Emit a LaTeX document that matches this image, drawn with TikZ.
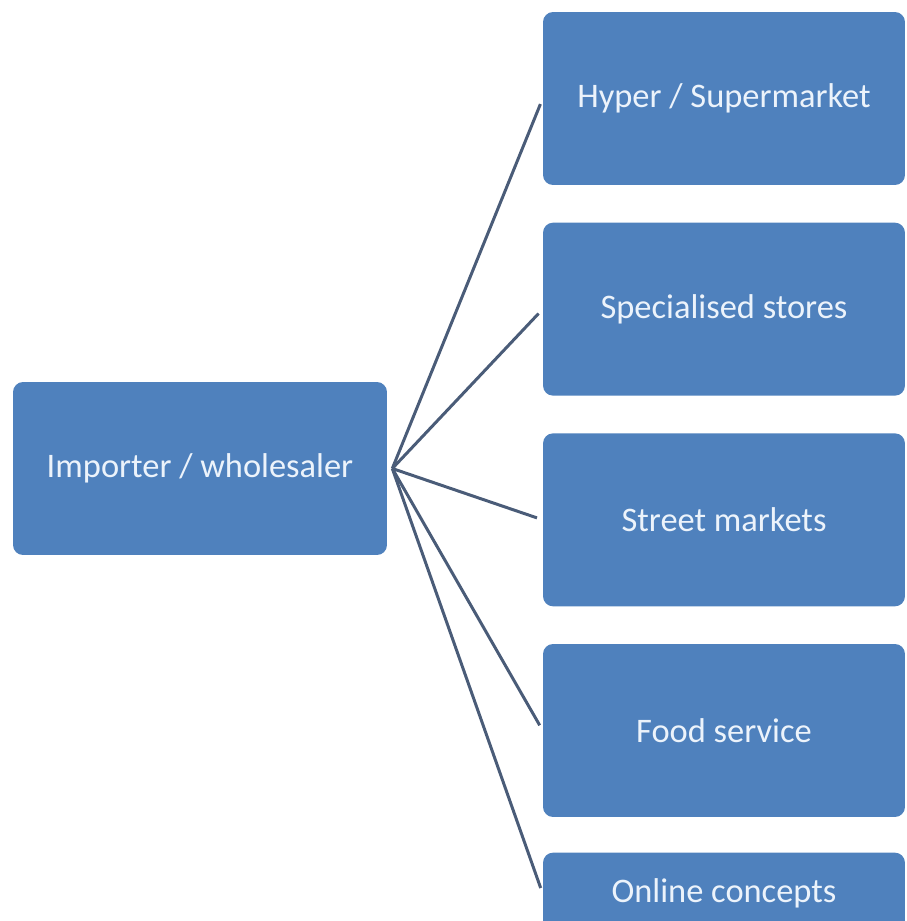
\documentclass[tikz,border=0pt]{standalone}
\usepackage{fontspec}
\setmainfont{Carlito}
\usepackage{tikz}
\usetikzlibrary{positioning}
\definecolor{boxblue}{RGB}{79,129,189}
\definecolor{linkgrey}{RGB}{74,92,120}
\definecolor{labelwhite}{RGB}{236,243,251}
\tikzset{
  channel/.style={rectangle, rounded corners=0.2cm, fill=boxblue, text=labelwhite,
    minimum width=7.24cm, minimum height=3.46cm, font=\fontsize{19.6}{22}\selectfont},
  link/.style={draw=linkgrey, line width=1.7pt, shorten >=0.12cm},
}

\begin{document}
\begin{tikzpicture}[x=0.02cm,y=-0.02cm]
    \useasboundingbox (0,0) rectangle (907,921);
    \clip (0,0) rectangle (907,921);
    % source
    \node[channel, minimum width=7.48cm] (importer) at (200,468.5) {Importer / wholesaler};
    \coordinate (hub) at ([xshift=0.1cm]importer.east);
    % outlets
    \node[channel] (hyper) at (724,98.5) {Hyper / Supermarket};
    \node[channel, below=0.74cm of hyper] (special) {Specialised stores};
    \node[channel, below=0.74cm of special] (street) {Street markets};
    \node[channel, below=0.74cm of street] (food) {Food service};
    \node[channel, below=0.7cm of food, minimum height=1.64cm] (online) {Online concepts};
    \foreach \n in {hyper,special,street,food,online}
        \draw[link] (hub) -- (\n.west);
\end{tikzpicture}
\end{document}
